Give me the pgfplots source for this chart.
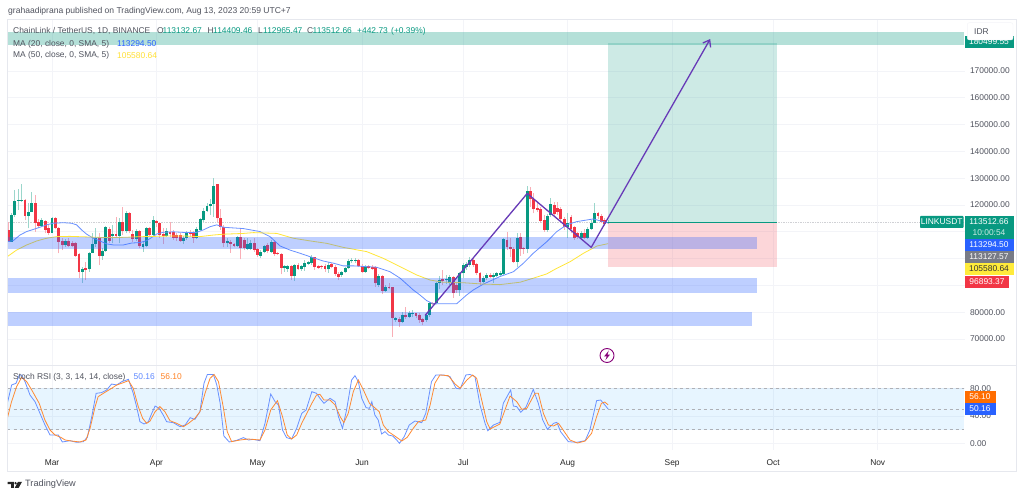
\documentclass[border=0pt]{standalone}
\usepackage{pgfplots}
\usepackage{pgfplotstable}
\pgfplotsset{compat=1.18}
\usepackage{fontspec}
\setmainfont{Liberation Sans}
\usetikzlibrary{arrows.meta}
\definecolor{tvgreen}{HTML}{089981}
\definecolor{tvred}{HTML}{F23645}
\definecolor{tvblue}{HTML}{2962FF}
\definecolor{tvyellow}{HTML}{FFEB3B}
\definecolor{tvorange}{HTML}{FF6D00}
\definecolor{tvgray}{HTML}{787B86}
\definecolor{wickg}{HTML}{9BD6CB}
\definecolor{wickr}{HTML}{F9AEB6}
\definecolor{gridc}{HTML}{F3F4F8}
\definecolor{framec}{HTML}{E6E8EE}
\definecolor{txt}{HTML}{50535E}
\definecolor{purp}{HTML}{673AB7}
\pgfplotstableread{
d o h l c
-13 110700 113800 106300 106300
-8 121900 122100 114400 115900
-5 120600 123700 110100 113400
-4 113800 114700 111300 112300
-2 114200 114400 109400 110700
-1 111300 112600 108800 109700
1 115000 115700 110900 111300
2 111300 111700 102000 106300
3 106600 107600 103200 105000
5 106600 107600 104200 104800
6 106000 106600 104200 104700
7 105700 106300 100700 101000
8 101600 102000 92700 95100
10 96600 98900 92000 95800
14 107600 109700 97600 101000
17 111100 111900 106000 106700
19 109200 115700 107600 108400
21 113800 119100 108800 110300
23 117200 117500 109400 110400
24 109200 110700 106300 107300
26 110300 110700 103800 104700
29 111300 111700 108200 108800
31 114000 114400 111900 113200
32 113200 113800 107600 108800
33 109200 111300 105500 108400
35 110100 113800 108200 109200
36 109800 110700 107000 107800
37 108800 109400 106700 107600
38 108800 109400 106300 106700
41 109800 110700 108200 109100
42 109400 110300 106000 107600
49 127700 127800 113500 115000
50 115300 118400 110700 111700
51 111700 112600 104200 105700
53 106300 107000 102200 105500
54 105500 106000 104200 104800
56 108200 111300 99700 103800
57 107000 107600 103200 103800
60 105700 107600 102600 103200
61 103500 103800 100700 101400
64 105000 105700 102200 102900
66 106300 106700 101000 101700
67 102200 102600 101400 101700
68 101600 102000 94100 96600
71 97300 97600 92000 93500
73 97700 98300 95800 96000
78 100500 100700 95800 97000
79 97300 97700 96300 96600
80 97300 97700 96100 96800
81 97400 98000 95100 96300
83 97900 98500 96400 97000
84 97000 97600 93500 94300
85 94300 95100 92000 93300
91 99500 99700 96800 97400
92 97400 97900 94800 95100
94 97300 97700 96000 96500
95 97000 97500 95800 96300
96 97000 97300 89500 90800
98 93500 93900 86800 88100
100 89300 90800 88500 89000
101 89300 89500 70900 77700
103 77400 78400 74400 76400
105 78900 81800 77400 78200
108 79600 79900 77700 78700
109 79000 79600 76100 77100
110 77500 78000 75100 76500
113 83600 83800 82700 83100
116 92300 95800 90200 91800
119 93000 93500 85400 87100
120 90200 91400 87300 88300
125 99500 100100 97000 97600
126 97900 98300 93900 94500
127 94500 95100 90200 91400
130 93900 94500 92700 93300
135 107000 110100 103200 104200
136 104500 107600 100700 103500
137 103500 104200 98300 98900
139 108000 109400 101000 103500
140 103800 104500 101700 103500
142 125400 126600 119400 122100
143 122100 124400 116900 118400
144 118800 121300 117500 118100
145 118500 119400 113400 114000
146 114400 116300 110100 110700
149 120000 121300 115700 116500
150 118800 121300 116300 117500
151 118500 119400 113800 114700
152 114700 115700 110700 111700
154 115700 116300 109400 110900
155 111700 112200 107000 107600
156 109400 110100 107300 108000
158 109700 110900 107200 107600
162 116900 117500 114700 115900
163 115900 116700 113200 113800
164 114400 115000 112200 112800
}\downc
\pgfplotstableread{
d o h l c
-12 106300 116900 106300 116300
-11 116300 125600 115700 121500
-10 121500 125900 118100 121900
-9 121600 127800 121300 121900
-7 115900 120600 111300 117500
-6 117500 125000 117500 120900
-3 112300 115000 111900 114400
0 109700 115700 109400 115000
4 105000 107200 104500 106500
9 95100 96800 91000 96100
11 96000 102600 95100 102200
12 102200 109400 102000 105500
13 105500 111300 104500 107700
15 101000 103800 99500 102900
16 102900 112200 102600 111700
18 108600 112600 105700 109200
20 108600 115300 105700 113800
22 110400 117900 109400 117200
25 107300 110900 106700 110300
27 104500 106300 102600 105500
28 104700 111900 104200 111500
30 108800 115900 108200 114300
34 108600 111300 108200 110400
39 106600 108400 105500 107800
40 107600 110400 107000 109800
43 107800 111700 107200 110900
44 110700 115000 110300 114700
45 114400 118800 113800 117900
46 117900 120900 117500 119800
47 119600 122100 116300 120400
48 120400 130000 115700 127200
52 105700 107600 104500 106600
55 104700 108400 104500 108200
58 103500 107600 103200 105500
59 103500 107000 103200 106000
62 101100 103200 100100 102600
63 102600 105100 102000 104700
65 102600 107000 102000 106300
69 96400 97600 95100 97300
70 96300 97600 95100 97300
72 93500 98000 91800 97600
74 96000 97600 95500 97300
75 97000 99500 95500 98300
76 98000 99200 97600 98700
77 98500 101400 97600 100500
82 96000 98900 94800 97700
86 93900 95500 93300 94900
87 94900 97000 94500 96400
88 96400 100000 96000 99200
89 99000 100100 98300 99400
90 99200 100200 98500 99500
93 95100 97500 94800 97000
97 90200 94300 89500 93500
99 88100 90200 87500 89300
102 77100 78400 76500 77700
104 76500 80200 75900 78900
106 78400 80500 77700 79600
107 79400 80800 78100 79700
111 77100 79600 76400 79100
112 79000 83800 78400 83300
114 83300 91400 83100 90800
115 90800 93500 88500 92000
117 91900 93900 90500 92500
118 91000 93900 90200 93300
121 88300 95100 86100 94800
122 94500 98300 92700 97600
123 97000 98900 95800 97900
124 97600 100500 97000 99500
128 91400 93500 91000 92900
129 92900 94500 92000 93900
131 93000 94500 91000 93900
132 93500 95100 93300 94500
133 93900 95500 93300 94800
134 94300 107800 93900 107300
138 98900 109400 96800 107700
141 103600 127100 102000 125400
147 110700 116700 110100 115900
148 116300 122500 115700 120300
153 111700 116900 107600 113400
157 107800 110300 107200 109700
159 107600 111900 107200 111200
160 111100 114400 110700 113400
161 113400 120600 113200 116900
165 113132.67 114409.46 112965.47 113512.66
}\upc
\pgfplotsset{
  paneb/.style={scale only axis, width=957.5pt, xmin=-13.2, xmax=270.9,
    axis line style={draw=none}, major tick length=0pt, clip=true,
    scaled y ticks=false,
    xtick={0,31,61,92,122,153,184,214,245},
    xmajorgrids, ymajorgrids, grid style={gridc, line width=0.7pt},
    tick label style={font=\fontsize{8.4}{10}\selectfont, text=txt},
    yticklabel pos=right, yticklabel style={xshift=1.5pt}},
  wick/.style={no markers, draw=none, forget plot, error bars/.cd, y dir=plus, y explicit, error mark=none,
    error bar style={line width=0.9pt, draw=#1, solid}},
  body/.style={no markers, draw=none, forget plot, error bars/.cd, y dir=plus, y explicit, error mark=none,
    error bar style={line width=2.9pt, draw=#1, solid}},
  rsiguide/.style={forget plot, tvgray!60, dash pattern=on 3pt off 3pt, line width=0.7pt},
}
\newcommand\fs{\fontsize{8.42}{10}\selectfont}
\newcommand\tx[4]{\node[anchor=west, inner sep=0pt, font=\fs, text=#3] at (#1,#2) {#4};}
\begin{document}
\begin{tikzpicture}
\useasboundingbox[fill=white] (0pt,0pt) rectangle (1024pt,497pt);
% price pane
\begin{axis}[paneb, at={(7.5pt,132pt)}, anchor=south west, height=346pt,
  ymin=60320, ymax=189380,
  xticklabels={},
  ytick={70000,80000,90000,100000,110000,120000,130000,140000,150000,160000,170000},
  yticklabels={70000.00,80000.00,,,,120000.00,130000.00,140000.00,150000.00,160000.00,170000.00}]
% last-price line
\addplot[forget plot, densely dotted, tvgray!35, line width=0.7pt] coordinates {(-13.2,113512.66)(270.9,113512.66)};
% wicks
\addplot[wick=wickg] table[x=d, y=l, y error plus expr=\thisrow{h}-\thisrow{l}] {\upc};
\addplot[wick=wickr] table[x=d, y=l, y error plus expr=\thisrow{h}-\thisrow{l}] {\downc};
% bodies
\addplot[body=tvgreen] table[x=d, y=o, y error plus expr=\thisrow{c}-\thisrow{o}] {\upc};
\addplot[body=tvred] table[x=d, y=c, y error plus expr=\thisrow{o}-\thisrow{c}] {\downc};
% moving averages
\addplot[forget plot, tvblue!70, line width=0.8pt] coordinates {(-13.3,106300)(-11.5,106700)(-9.5,108800)(-7.5,110100)(-5.5,110900)(-3.6,111700)(-1.6,112600)(0.4,113200)(3.4,113400)(5.8,113200)(7.3,112600)(8.8,110700)(10.3,109100)(12.3,107600)(14.2,106600)(16.2,105500)(18.2,105100)(21.2,105100)(23.6,105800)(26.1,106000)(28.1,106700)(29.6,107900)(31.1,109200)(33,109800)(36,110000)(40,109700)(42.9,109800)(44.9,110700)(46.9,111900)(48.9,112600)(50.8,111700)(56.8,111200)(61.7,110100)(64.7,108200)(67.7,104700)(70.6,103200)(73.6,102000)(76.6,100700)(80.5,99100)(83.5,98300)(86.4,97300)(89.4,97300)(93.4,97000)(96.3,96800)(100.3,95100)(103.3,92700)(107.2,88300)(109.2,86400)(111.2,84300)(113.2,83100)(116.6,83200)(120.1,83200)(123,86400)(125,88300)(128,90500)(132.9,93300)(136.9,95100)(139.9,98300)(142.8,102000)(146.8,106300)(149.8,110100)(152.7,112600)(155.7,113800)(160.6,114800)(165,113294.5)};
\addplot[forget plot, tvyellow!95!orange, line width=0.8pt] coordinates {(-13.3,100700)(-10.5,103200)(-7.5,105100)(-4.5,106600)(-1.6,107600)(1.4,108200)(5.3,108300)(10.3,108100)(14.2,107900)(20.2,107900)(27.1,108200)(34,108400)(40,108400)(43.9,108200)(47.9,108800)(50.8,109100)(56.8,109400)(59.8,109700)(66.7,109400)(71.6,107600)(76.6,106600)(81.5,105700)(86.4,104200)(93.4,102600)(98.3,100100)(103.3,97000)(108.2,93900)(112.2,92000)(116.1,91200)(122.1,91000)(128,90500)(132.9,90300)(138.9,91200)(142.8,92700)(146.8,94300)(149.8,96400)(153.8,98900)(157.7,102000)(161.7,104700)(165,105580.64)};
% position tool
\addplot[forget plot, draw=none, fill=tvgreen, fill opacity=0.2] coordinates {(165,113512.66)(215.1,113512.66)(215.1,180499.55)(165,180499.55)} -- cycle;
\addplot[forget plot, draw=none, fill=tvred, fill opacity=0.2] coordinates {(165,113512.66)(215.1,113512.66)(215.1,96893.37)(165,96893.37)} -- cycle;
\addplot[forget plot, tvgreen, line width=0.9pt] coordinates {(165,113512.66)(215.1,113512.66)};
% bands
\addplot[forget plot, draw=none, fill=tvblue, fill opacity=0.3] coordinates {(-13.2,108060)(209.2,108060)(209.2,103590)(-13.2,103590)} -- cycle;
\addplot[forget plot, draw=none, fill=tvblue, fill opacity=0.3] coordinates {(-13.2,92800)(209.2,92800)(209.2,87300)(-13.2,87300)} -- cycle;
\addplot[forget plot, draw=none, fill=tvblue, fill opacity=0.3] coordinates {(-13.2,80000)(207.7,80000)(207.7,74800)(-13.2,74800)} -- cycle;
\addplot[forget plot, draw=none, fill=tvgreen, fill opacity=0.3] coordinates {(-13.2,184700)(270.6,184700)(270.6,179680)(-13.2,179680)} -- cycle;
% arrow
\addplot[forget plot, purp, line width=1.3pt, line join=round, -{Straight Barb[length=6pt,width=9pt]}] coordinates {(110.7,78800)(141,124300)(160,104200)(195.3,181900)};
\end{axis}
% Stoch RSI pane
\begin{axis}[paneb, at={(7.5pt,47pt)}, anchor=south west, height=84pt,
  ymin=-9.4, ymax=112.3, ytick={0,40,80},
  yticklabels={0.00,40.00,80.00},
  xticklabels={Mar,Apr,May,Jun,Jul,Aug,Sep,Oct,Nov},
  xticklabel style={font=\fontsize{8.4}{10}\selectfont, text=black!85, yshift=-5.5pt, text height=6.5pt, text depth=2pt}]
\addplot[forget plot, draw=none, fill=tvblue!60!cyan, fill opacity=0.1] coordinates {(-13.2,80)(270.6,80)(270.6,20)(-13.2,20)} -- cycle;
\addplot[rsiguide] coordinates {(-13.2,80)(270.6,80)};
\addplot[rsiguide] coordinates {(-13.2,50)(270.6,50)};
\addplot[rsiguide] coordinates {(-13.2,20)(270.6,20)};
\addplot[forget plot, tvblue!70, line width=0.8pt] coordinates {(-13.25,58.2)(-11.97,84.8)(-10.68,87.2)(-9.69,99.3)(-9,99.3)(-8,89.6)(-6.53,70.3)(-5.04,60.6)(-3.56,43.7)(-2.08,26.8)(-0.59,12.3)(0.89,12.3)(1.88,12.3)(3.07,2.2)(5.34,4.1)(7.32,1.7)(9.3,2.7)(10.5,9)(11.8,38.9)(13.1,72.7)(14.7,73.7)(16.2,77.5)(17.7,86.2)(19.2,84.8)(20.7,89.6)(22.7,93)(24.1,72.7)(25.1,53.4)(26.1,31.6)(27.3,28.3)(28.6,31.6)(29.6,43.7)(30.6,54.3)(31.8,51)(33,41.3)(34,31.6)(36,30.2)(38,24.4)(39.5,26.8)(41,37.4)(42.4,35)(43.9,46.1)(45.1,87.2)(46.1,100)(47.9,100)(48.9,84.8)(49.9,58.2)(51,10.9)(52.6,2.2)(54.8,4.6)(56.8,8.5)(58.3,5.1)(59.7,6)(61.7,4.1)(63.2,29.2)(64.9,71.7)(66.2,60.6)(67.2,55.8)(68.4,19.6)(69.6,8.5)(71.1,6.5)(72.6,22)(74.1,43.7)(75.4,48.6)(77.1,75.1)(78.5,72.7)(79.5,65.5)(80.7,58.2)(82.5,65.5)(84,60.6)(85,38.9)(86.2,22)(87.4,48.6)(88.9,92)(89.9,98.3)(90.9,89.6)(91.9,65.5)(93.2,51.9)(94.2,51)(94.9,60.6)(95.8,41.3)(96.8,34.1)(97.8,13.8)(98.8,17.2)(99.8,12.3)(101.1,10.9)(102.1,6)(103.1,0.3)(104.5,9.9)(106,26.8)(107.7,32.6)(109.7,30.2)(110.9,43.7)(112.6,89.6)(113.9,99.3)(116.1,99.3)(118.1,96.9)(119.9,80)(121.1,79)(122.8,99.3)(124,100)(125.5,96.9)(127,55.8)(128.5,29.2)(129.3,18.6)(131,26.8)(132.9,30.7)(133.9,58.2)(136.1,77.5)(136.9,54.3)(137.9,53.4)(139.1,45.2)(140.7,53.4)(142.8,78.5)(144.3,58.2)(145.6,34.1)(147,20.5)(148.8,29.2)(149.8,30.7)(150.9,17.2)(153.2,2.7)(155.7,1.7)(158.2,4.1)(159.6,19.6)(161.6,62.1)(162.8,63)(165,50.16)};
\addplot[forget plot, tvorange!80, line width=0.8pt] coordinates {(-13.25,36.5)(-12,60.6)(-10.5,82.4)(-9,95.9)(-7.5,89.6)(-6,77.5)(-3.8,58.2)(-2.1,34.1)(-0.6,19.6)(0.9,12.3)(2.6,9)(3.9,5.1)(5.8,3.6)(8.3,2.2)(10.1,5.1)(11.3,22)(12.8,53.4)(13.7,67.9)(15.7,74.1)(17.7,80)(19.2,84.8)(21.2,88.2)(22.7,91.1)(24.1,80)(25.6,53.4)(26.9,36.5)(28.1,29.2)(29.1,32.6)(30.6,46.1)(32,53.4)(33.5,46.1)(35,33.1)(37,29.2)(39,24.4)(40.5,29.2)(42.4,36.5)(43.9,46.1)(45.4,72.7)(46.9,94.4)(48.1,100)(49.4,89.6)(50.8,53.4)(52,17.2)(53.3,2.7)(55.8,5.1)(58.3,6.5)(61.7,5.1)(63.2,19.6)(64.9,48.6)(66.9,62.1)(68.4,38.9)(69.8,12.3)(71.1,6.5)(72.6,12.3)(74.1,29.2)(75.6,43.7)(77.1,58.2)(78.5,70.3)(79.5,71.3)(80.7,63)(82.5,63)(84,55.8)(85.5,38.9)(86.6,30.2)(87.9,43.7)(89.4,75.1)(90.9,92)(92.4,77.5)(94.2,58.2)(95.4,53.4)(97.1,46.1)(98.3,26.8)(99.8,17.2)(101.3,12.3)(103.8,3.6)(105.4,9)(107.2,22)(108.7,31.6)(110.9,34.1)(112.2,55.8)(113.6,87.2)(115.1,99.3)(117.6,98.3)(119.6,86.2)(121.1,80)(123.1,92)(124.8,99.3)(126,94.4)(127.5,63)(129,31.6)(130,21)(132.9,28.3)(134.4,48.6)(135.9,68.8)(137.9,60.6)(139.4,49.5)(140.9,51)(143.3,72.7)(144.3,72.7)(145.8,43.7)(147.3,26.8)(148.8,25.4)(150.3,29.2)(152,17.2)(153.7,5.1)(155.9,0.7)(158.2,3.6)(160.1,14.7)(161.6,38.9)(163,58.2)(164,60.1)(165,56.1)};
\end{axis}
% frame, legends and labels, in pixel coordinates of the picture
\begin{scope}[x=1pt,y=-1pt,yshift=497pt]
\draw[framec,line width=0.8pt] (7,19) rectangle (1016.5,471.5);
\draw[framec,line width=0.8pt] (7,365.5) -- (1016.5,365.5);
\node[anchor=west,inner sep=0pt,font=\fontsize{8.55}{10}\selectfont,text=txt] at (8,11) {grahaadiprana published on TradingView.com, Aug 13, 2023 20:59 UTC+7};
\tx{13}{31}{txt}{ChainLink / TetherUS, 1D, BINANCE}
\tx{157}{31}{txt}{O}\tx{162.5}{31}{tvgreen}{113132.67}
\tx{207.5}{31}{txt}{H}\tx{213}{31}{tvgreen}{114409.46}
\tx{258}{31}{txt}{L}\tx{263}{31}{tvgreen}{112965.47}
\tx{307}{31}{txt}{C}\tx{312.5}{31}{tvgreen}{113512.66}
\tx{357}{31}{tvgreen}{+442.73}\tx{391}{31}{tvgreen}{(+0.39\%)}
\tx{13}{44}{txt}{MA (20, close, 0, SMA, 5)}\tx{117}{44}{tvblue}{113294.50}
\tx{13}{55.5}{txt}{MA (50, close, 0, SMA, 5)}\tx{117}{55.5}{tvyellow!90!orange}{105580.64}
\tx{13}{377}{txt}{Stoch RSI (3, 3, 14, 14, close)}\tx{133.5}{377}{tvblue!75}{50.16}\tx{160.5}{377}{tvorange!85}{56.10}
% price labels
\fill[tvgreen] (964.5,36) rectangle (1013.5,48.3);
\node[font=\fs,text=white,inner sep=0pt] at (989,41.5) {180499.55};
\filldraw[fill=white,draw=gridc,rounded corners=2pt] (967.3,22.7) rectangle (1013,40);
\tx{974}{32}{txt}{IDR}
\fill[tvgreen,rounded corners=0.8pt] (920,216) rectangle (963.5,228);
\node[font=\fs,text=white,inner sep=0pt] at (941.7,222) {LINKUSDT};
\fill[tvgreen] (964.5,216) rectangle (1013.5,239.5);
\node[font=\fs,text=white,inner sep=0pt] at (989,222) {113512.66};
\node[font=\fs,text=white!80!tvgreen,inner sep=0pt] at (989,233) {10:00:54};
\fill[tvblue] (964.5,239.5) rectangle (1013.5,251);
\node[font=\fs,text=white,inner sep=0pt] at (989,245) {113294.50};
\fill[tvgray] (964.5,251) rectangle (1013.5,263);
\node[font=\fs,text=white,inner sep=0pt] at (989,257) {113127.57};
\fill[tvyellow] (964.5,263) rectangle (1013.5,275);
\node[font=\fs,text=black!80,inner sep=0pt] at (989,269) {105580.64};
\fill[tvred] (964.5,276) rectangle (1009,288);
\node[font=\fs,text=white,inner sep=0pt] at (987,282) {96893.37};
\fill[tvorange] (964.5,391) rectangle (995.5,403.3);
\node[font=\fs,text=white,inner sep=0pt] at (980,397) {56.10};
\fill[tvblue] (964.5,403.3) rectangle (995.5,415);
\node[font=\fs,text=white,inner sep=0pt] at (980,409) {50.16};
% bolt
\draw[purple!70!blue,line width=0.9pt] (607,355.5) circle (7);
\fill[purple!70!blue] (608.8,350.6) -- (604.2,356.3) -- (606.8,356.3) -- (605.4,360.2) -- (610,354.6) -- (607.4,354.6) -- cycle;
% logo
\fill[black!85] (7.5,481.8) -- (13.8,481.8) -- (13.8,487.8) -- (11,487.8) -- (11,484.2) -- (7.5,484.2) -- cycle;
\fill[black!85] (15.6,483.2) circle (1.3);
\fill[black!85] (18,481.8) -- (22,481.8) -- (18.7,487.8) -- (14.8,487.8) -- cycle;
\node[anchor=west,inner sep=0pt,font=\fontsize{9.2}{11}\selectfont,text=txt] at (25,484.5) {TradingView};
\end{scope}
\end{tikzpicture}
\end{document}
